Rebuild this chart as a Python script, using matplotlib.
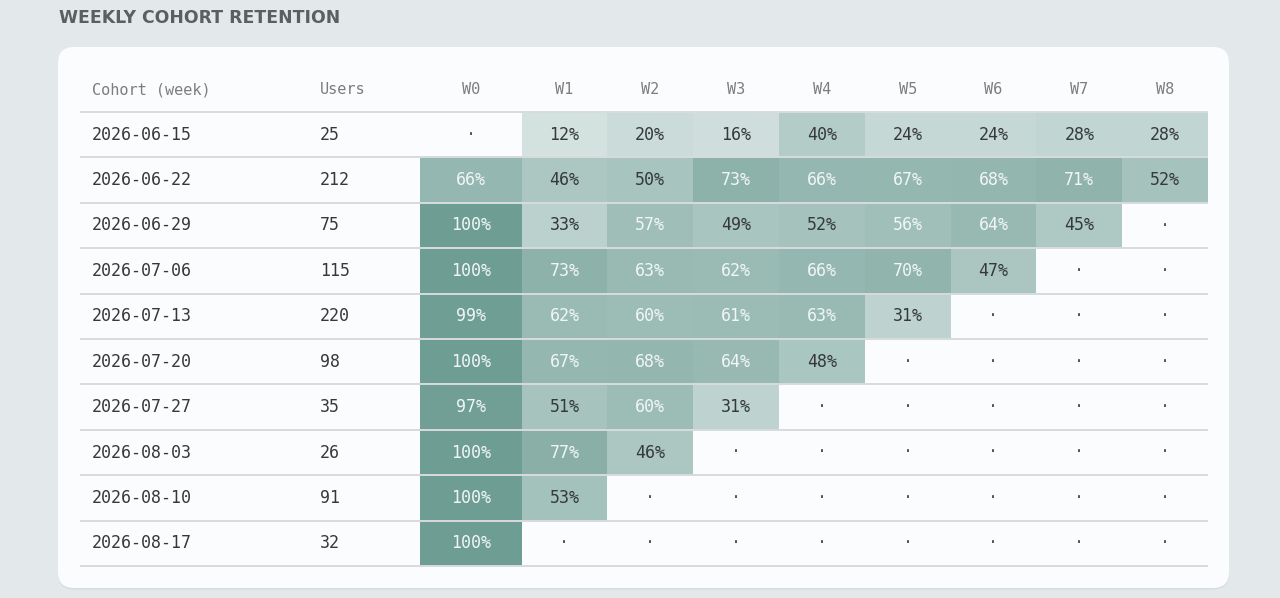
#!/usr/bin/env python3
# -*- coding: utf-8 -*-
"""Weekly cohort retention table rendered as a heat-tinted grid."""

import matplotlib
matplotlib.use("Agg")
import matplotlib.pyplot as plt
from matplotlib.patches import FancyBboxPatch, Rectangle

# ---- data -----------------------------------------------------------------
COHORTS = [
    "2026-06-15", "2026-06-22", "2026-06-29", "2026-07-06", "2026-07-13",
    "2026-07-20", "2026-07-27", "2026-08-03", "2026-08-10", "2026-08-17",
]
USERS = [25, 212, 75, 115, 220, 98, 35, 26, 91, 32]
WEEKS = ["W0", "W1", "W2", "W3", "W4", "W5", "W6", "W7", "W8"]
# retention in percent, None = no data yet
RETENTION = [
    [None, 12, 20, 16, 40, 24, 24, 28, 28],
    [66, 46, 50, 73, 66, 67, 68, 71, 52],
    [100, 33, 57, 49, 52, 56, 64, 45, None],
    [100, 73, 63, 62, 66, 70, 47, None, None],
    [99, 62, 60, 61, 63, 31, None, None, None],
    [100, 67, 68, 64, 48, None, None, None, None],
    [97, 51, 60, 31, None, None, None, None, None],
    [100, 77, 46, None, None, None, None, None, None],
    [100, 53, None, None, None, None, None, None, None],
    [100, None, None, None, None, None, None, None, None],
]

# ---- style ----------------------------------------------------------------
W, H = 1280, 598
PAGE_BG = "#e3e8eb"
CARD_BG = "#fbfcfd"
BASE_RGB = (110 / 255, 157 / 255, 147 / 255)
WHITE_RGB = (251 / 255, 252 / 255, 253 / 255)
TEXT_DARK = "#35393b"
TEXT_LIGHT = "#f1f6f5"
HEADER_GREY = "#7b7d7e"
LINE_GREY = "#d8dbde"
MONO = "DejaVu Sans Mono"

# layout (pixels)
TABLE_LEFT, TABLE_RIGHT = 80, 1208
HEADER_Y = 90
HEADER_LINE = 112
ROW_H = 45.4
COHORT_X, USERS_X = 92, 320
W0_LEFT, W0_WIDTH = 420, 101.5
WK_WIDTH = (TABLE_RIGHT - W0_LEFT - W0_WIDTH) / (len(WEEKS) - 1)


def cell_color(v):
    a = 0.18 + 0.82 * v / 100.0
    return tuple(WHITE_RGB[i] + (BASE_RGB[i] - WHITE_RGB[i]) * a for i in range(3))


def col_bounds(j):
    if j == 0:
        return W0_LEFT, W0_LEFT + W0_WIDTH
    left = W0_LEFT + W0_WIDTH + (j - 1) * WK_WIDTH
    return left, left + WK_WIDTH


fig = plt.figure(figsize=(W / 100, H / 100), dpi=100)
fig.patch.set_facecolor(PAGE_BG)
ax = fig.add_axes([0, 0, 1, 1])
ax.set_xlim(0, W)
ax.set_ylim(H, 0)
ax.axis("off")

ax.text(59, 18, "WEEKLY COHORT RETENTION", fontsize=12.4, fontweight="bold",
        color="#5b5f61", ha="left", va="center", family="DejaVu Sans")

# card with a faint shadow
ax.add_patch(FancyBboxPatch((58, 48.5), 1171, 541, boxstyle="round,pad=0,rounding_size=16",
                            facecolor="#d6dcdf", edgecolor="none", zorder=0))
ax.add_patch(FancyBboxPatch((58, 47), 1171, 541, boxstyle="round,pad=0,rounding_size=16",
                            facecolor=CARD_BG, edgecolor="none", zorder=1))

# header
ax.text(COHORT_X, HEADER_Y, "Cohort (week)", fontsize=11, color=HEADER_GREY,
        family=MONO, ha="left", va="center", zorder=3)
ax.text(USERS_X, HEADER_Y, "Users", fontsize=11, color=HEADER_GREY,
        family=MONO, ha="left", va="center", zorder=3)
for j, wk in enumerate(WEEKS):
    l, r = col_bounds(j)
    ax.text((l + r) / 2, HEADER_Y, wk, fontsize=11, color=HEADER_GREY,
            family=MONO, ha="center", va="center", zorder=3)

# body
for i, (cohort, users, row) in enumerate(zip(COHORTS, USERS, RETENTION)):
    top = HEADER_LINE + i * ROW_H
    yc = top + ROW_H / 2
    ax.text(COHORT_X, yc, cohort, fontsize=12, color=TEXT_DARK, family=MONO,
            ha="left", va="center", zorder=3)
    ax.text(USERS_X, yc, str(users), fontsize=12, color=TEXT_DARK, family=MONO,
            ha="left", va="center", zorder=3)
    for j, v in enumerate(row):
        l, r = col_bounds(j)
        xc = (l + r) / 2
        if v is None:
            ax.text(xc, yc, "·", fontsize=12, color="#55585b", family=MONO,
                    ha="center", va="center", zorder=3)
            continue
        ax.add_patch(Rectangle((l, top), r - l, ROW_H, facecolor=cell_color(v),
                               edgecolor="none", zorder=2))
        ax.text(xc, yc, f"{v}%", fontsize=12, family=MONO,
                color=TEXT_LIGHT if v >= 55 else TEXT_DARK,
                ha="center", va="center", zorder=3)

# row separators
for k in range(len(COHORTS) + 1):
    y = HEADER_LINE + k * ROW_H
    ax.plot([TABLE_LEFT, TABLE_RIGHT], [y, y], color=LINE_GREY, lw=1.4,
            solid_capstyle="butt", zorder=2.5)

fig.savefig("out.png", dpi=100, facecolor=fig.get_facecolor())
plt.close(fig)
